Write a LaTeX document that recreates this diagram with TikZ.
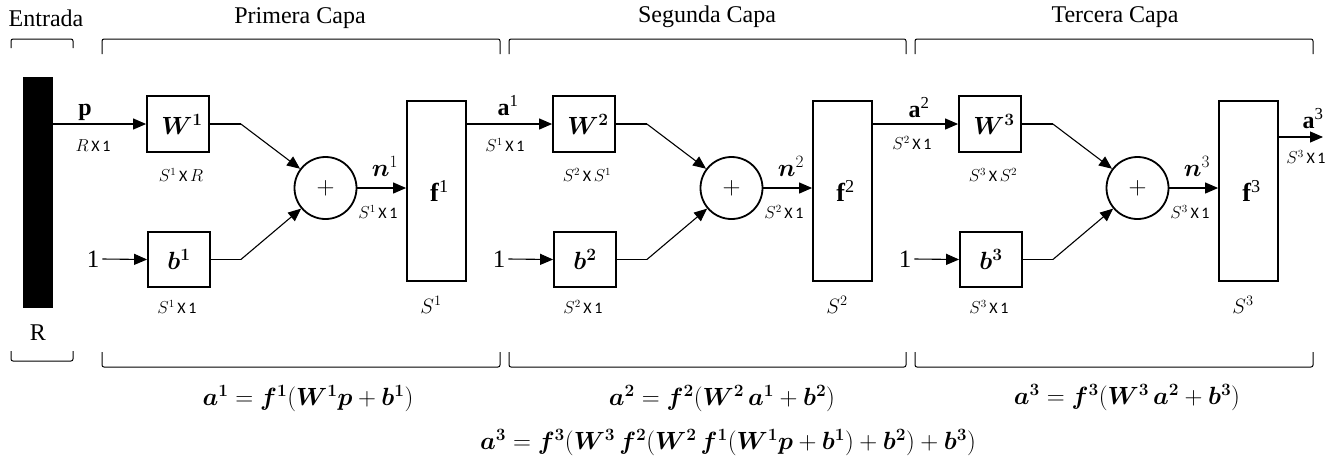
\documentclass[tikz,border=0pt]{standalone}
\usepackage{fontspec}
\setmainfont{Liberation Serif}
\newfontfamily\calib{Carlito}
\usepackage{bm}
\usetikzlibrary{arrows.meta}
\newcommand\bv[2]{\bm{#1}^{\bm{#2}}}
\newcommand\dimS[2]{$S^{#1}$\,{\calib X}\,#2}
\begin{document}
\begin{tikzpicture}[x=1pt,y=-1pt,
  wbox/.style={draw,line width=1.8pt,minimum width=62pt,minimum height=56pt,inner sep=0pt,font=\fontsize{27}{27}\selectfont},
  sumc/.style={circle,draw,line width=1.8pt,minimum size=62pt,inner sep=0pt,font=\fontsize{30}{30}\selectfont},
  fbox/.style={draw,line width=1.8pt,minimum width=59pt,minimum height=180pt,inner sep=0pt,font=\fontsize{26}{26}\selectfont},
  conn/.style={line width=1.1pt},
  arr/.style={conn,-{Triangle[length=13pt,width=11pt]}},
  brk/.style={line width=1pt,rounded corners=2pt},
  dimlab/.style={font=\fontsize{16}{16}\selectfont,inner sep=0pt},
  ttl/.style={font=\fontsize{24}{24}\selectfont,inner sep=0pt},
  sig/.style={font=\fontsize{24}{24}\selectfont,inner sep=0pt},
  eqn/.style={font=\fontsize{26}{26}\selectfont,inner sep=0pt}]
\useasboundingbox (0,0) rectangle (1338,461);
% titles
\node[ttl] (tin) at (46,18) {Entrada};
\node[ttl] (t1) at (300,18) {Primera Capa};
\node[ttl] (t2) at (707,17) {Segunda Capa};
\node[ttl] (t3) at (1115,17) {Tercera Capa};
% top brackets
\draw[brk] (11,48) -- (11,39) -- (73,39) -- (73,48);
\draw[brk] (102,54) -- (102,39) -- (500,39) -- (500,54);
\draw[brk] (509,54) -- (509,39) -- (906,39) -- (906,54);
\draw[brk] (915,54) -- (915,39) -- (1313,39) -- (1313,54);
% bottom brackets
\draw[brk] (11,351) -- (11,361) -- (73,361) -- (73,351);
\draw[brk] (102,352) -- (102,367) -- (500,367) -- (500,352);
\draw[brk] (509,352) -- (509,367) -- (906,367) -- (906,352);
\draw[brk] (915,352) -- (915,367) -- (1313,367) -- (1313,352);
% input bar
\node[fill=black,minimum width=30pt,minimum height=231pt,inner sep=0pt] (bar) at (38,192.5) {};
\node[sig] (R) at (38,333) {R};
\node[sig] (plab) at (85,112) {\textbf{p}};
\node[dimlab] (pdim) at (93,146) {$R$\,{\calib X}\,{\calib 1}};
% layers
\foreach \k/\wl [evaluate=\k as \dx using {406*(\k-1)}] in {1/$R$,2/$S^1$,3/$S^2$}{
  \node[wbox] (W\k) at (178+\dx,124) {\hspace{8pt}$\bv{W}{\k}$};
  \node[wbox,minimum height=55pt] (b\k) at (179+\dx,259.5) {$\bv{b}{\k}$};
  \node[sumc] (s\k) at (325.5+\dx,188) {$+$};
  \node[fbox] (f\k) at (436.5+\dx,191) {\hspace{6pt}\textbf{f}\textsuperscript{\k}};
  \node[sig,font=\fontsize{25}{25}\selectfont] (one\k) at (93+\dx,259) {1};
  \draw[arr] ([xshift=3pt]one\k.east) -- (b\k.west);
  \draw[conn] (W\k.east) -- ([xshift=31pt]W\k.east) coordinate (wj\k);
  \draw[arr] (wj\k) -- (s\k);
  \draw[conn] (b\k.east) -- ([xshift=30pt]b\k.east) coordinate (bj\k);
  \draw[arr] (bj\k) -- (s\k);
  \draw[arr] (s\k.east) -- (s\k.east -| f\k.west);
  \node[font=\fontsize{24}{24}\selectfont,inner sep=0pt] (n\k) at (385+\dx,166) {$\bm{n}^{\k}$};
  \node[dimlab] (nd\k) at (378+\dx,212) {\dimS{\k}{{\calib 1}}};
  \node[dimlab] (wd\k) at (181+\dx,175) {\dimS{\k}{\wl}};
  \node[dimlab] (bd\k) at (177+\dx,307) {\dimS{\k}{{\calib 1}}};
  \node[font=\fontsize{22}{22}\selectfont,inner sep=0pt] (fd\k) at (431+\dx,305) {$S^{\k}$};
}
% inter-layer connectors
\draw[arr] (bar.east |- W1.west) -- (W1.west);
\draw[arr] (f1.east |- W2.west) -- (W2.west);
\draw[arr] (f2.east |- W3.west) -- (W3.west);
\coordinate (out) at (1323,137);
\draw[arr] (f3.east |- out) -- (out);
\node[sig] (a1) at (508,106) {\textbf{a}\textsuperscript{1}};
\node[dimlab] (a1d) at (505,145) {\dimS{1}{{\calib 1}}};
\node[sig] (a2) at (919,108) {\textbf{a}\textsuperscript{2}};
\node[dimlab] (a2d) at (912,143) {\dimS{2}{{\calib 1}}};
\node[sig] (a3) at (1313,119) {\textbf{a}\textsuperscript{3}};
\node[dimlab] (a3d) at (1306,157) {\dimS{3}{{\calib 1}}};
% equations
\node[eqn] (e1) at (308,399) {$\bv{a}{1} = \bv{f}{1}(\bv{W}{1}\bm{p} + \bv{b}{1})$};
\node[eqn] (e2) at (722,399) {$\bv{a}{2} = \bv{f}{2}(\bv{W}{2}\,\bv{a}{1} + \bv{b}{2})$};
\node[eqn] (e3) at (1127,398) {$\bv{a}{3} = \bv{f}{3}(\bv{W}{3}\,\bv{a}{2} + \bv{b}{3})$};
\node[eqn] (e4) at (728,443) {$\bv{a}{3} = \bv{f}{3}(\bv{W}{3}\,\bv{f}{2}(\bv{W}{2}\,\bv{f}{1}(\bv{W}{1}\bm{p} + \bv{b}{1}) + \bv{b}{2}) + \bv{b}{3})$};
\end{tikzpicture}
\end{document}
